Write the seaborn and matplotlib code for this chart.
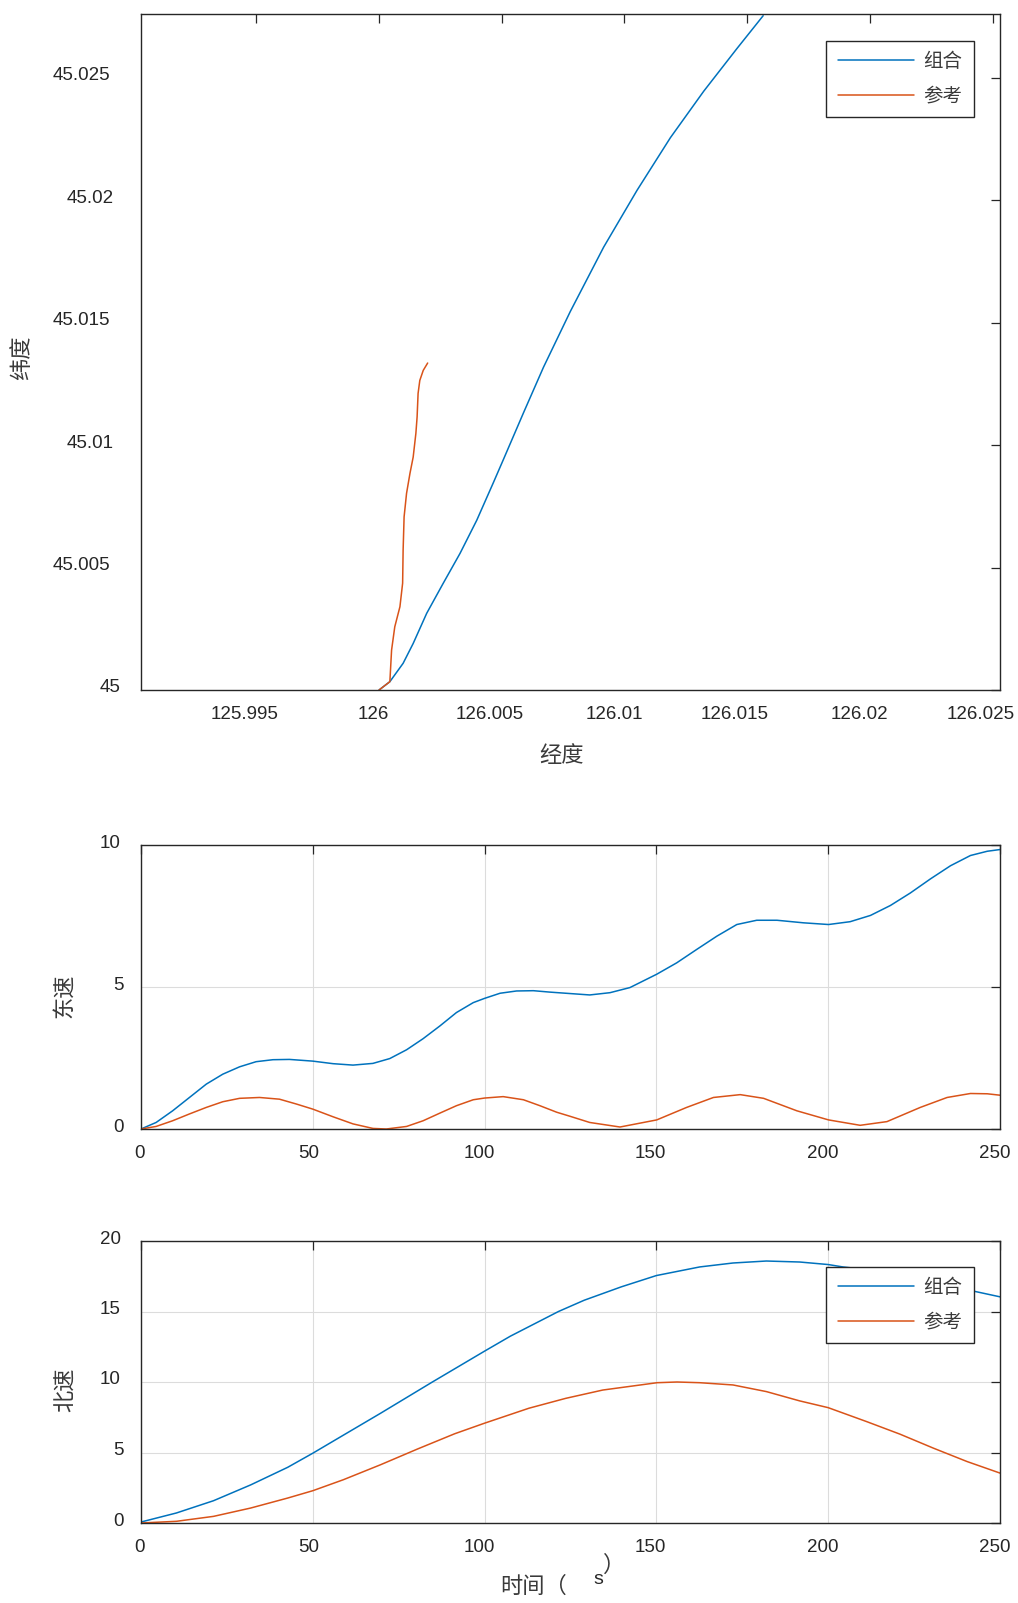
import numpy as np
import seaborn as sns
import matplotlib
matplotlib.use("Agg")
import matplotlib.pyplot as plt
from matplotlib.transforms import ScaledTranslation

# trajectory (longitude / latitude)
lon_comb = [126.0, 126.00044, 126.00098, 126.00139, 126.00194, 126.00261, 126.0033,
            126.00398, 126.00465, 126.00507, 126.00589, 126.0067, 126.00779,
            126.00915, 126.01051, 126.01187, 126.01323, 126.01459, 126.01565]
lat_comb = [45.0, 45.00034, 45.00109, 45.0019, 45.00313, 45.00435, 45.00558,
            45.00693, 45.00845, 45.00942, 45.01133, 45.01318, 45.01545,
            45.01808, 45.0204, 45.02255, 45.02445, 45.0262, 45.02753]
lon_ref = [126.0, 126.00044, 126.00051, 126.00064, 126.00085, 126.00096, 126.00098,
           126.00102, 126.00112, 126.00126, 126.00139, 126.0015, 126.00155,
           126.00159, 126.00166, 126.0018, 126.00198]
lat_ref = [45.0, 45.00034, 45.00163, 45.00258, 45.0034, 45.00436, 45.00571,
           45.00707, 45.00803, 45.00885, 45.00951, 45.01048, 45.01115,
           45.01211, 45.01264, 45.01305, 45.01335]

# east velocity
t_east_comb = [0, 4.4, 9.2, 14.1, 19.0, 23.8, 28.7, 33.5, 38.4, 43.2, 50.0, 55.9, 61.7,
               67.5, 72.4, 77.3, 82.1, 87.0, 91.8, 96.7, 100.0, 104.5, 109.3, 114.2,
               119.0, 124.8, 130.6, 136.5, 142.3, 150.1, 155.9, 161.7, 167.6, 173.4,
               179.2, 185.1, 192.8, 200.1, 206.4, 212.3, 218.1, 223.9, 229.8, 235.6,
               241.4, 246.3, 250.0]
v_east_comb = [0, 0.23, 0.64, 1.11, 1.58, 1.93, 2.19, 2.37, 2.44, 2.45, 2.39, 2.30, 2.25,
               2.31, 2.48, 2.79, 3.18, 3.63, 4.10, 4.45, 4.60, 4.78, 4.86, 4.87,
               4.82, 4.77, 4.72, 4.80, 4.98, 5.45, 5.85, 6.32, 6.79, 7.20,
               7.35, 7.35, 7.26, 7.20, 7.30, 7.52, 7.87, 8.31, 8.81, 9.27,
               9.63, 9.78, 9.84]
t_east_ref = [0, 4.4, 9.2, 14.1, 19.0, 23.8, 28.7, 34.5, 40.3, 45.2, 50.0, 55.9, 61.7,
              67.5, 71.4, 77.3, 82.1, 87.0, 91.8, 96.7, 100.0, 105.4, 111.3, 116.1,
              121.0, 124.8, 130.6, 139.4, 150.1, 158.8, 166.6, 174.4, 181.2, 190.9,
              200.1, 209.3, 217.1, 226.8, 234.6, 241.4, 246.3, 250.0]
v_east_ref = [0, 0.09, 0.29, 0.53, 0.76, 0.96, 1.08, 1.11, 1.05, 0.88, 0.70, 0.43, 0.18,
              0.02, 0.0, 0.09, 0.29, 0.56, 0.82, 1.03, 1.09, 1.14, 1.03, 0.82,
              0.59, 0.45, 0.23, 0.07, 0.32, 0.76, 1.11, 1.21, 1.08, 0.64,
              0.32, 0.13, 0.26, 0.76, 1.11, 1.25, 1.24, 1.19]

# north velocity
t_north_comb = [0, 10.3, 21.1, 31.9, 42.7, 50.0, 58.9, 69.7, 84.8, 100.0, 107.5, 121.5,
                129.0, 139.8, 150.0, 162.6, 172.3, 182.0, 191.7, 200.0, 204.3, 214.0,
                227.0, 235.0, 242.4, 250.0]
v_north_comb = [0.07, 0.71, 1.58, 2.70, 3.95, 4.95, 6.23, 7.78, 10.0, 12.19, 13.25, 15.0,
                15.8, 16.75, 17.55, 18.16, 18.44, 18.58, 18.51, 18.33, 18.16, 17.9,
                17.3, 16.9, 16.44, 16.04]
t_north_ref = [0, 10.3, 21.1, 31.9, 42.7, 50.0, 58.9, 69.7, 80.5, 91.3, 100.0, 112.9,
               123.6, 134.4, 150.2, 156.0, 162.6, 172.3, 182.0, 191.7, 200.0, 211.2,
               220.9, 230.6, 240.4, 250.0]
v_north_ref = [0, 0.12, 0.47, 1.06, 1.77, 2.29, 3.07, 4.13, 5.25, 6.33, 7.08, 8.14,
               8.84, 9.43, 9.95, 10.0, 9.95, 9.79, 9.32, 8.66, 8.18, 7.19,
               6.30, 5.31, 4.36, 3.54]

BLUE = '#0072BD'
ORANGE = '#D95319'
AX_COLOR = '#262626'
LABEL_COLOR = '#3a3a3a'

sns.set_style("white")
plt.rcParams['font.family'] = ['Liberation Sans', 'Noto Sans CJK SC', 'DejaVu Sans']
plt.rcParams['axes.unicode_minus'] = False

W, H = 1018, 1603
fig = plt.figure(figsize=(W / 100, H / 100), dpi=100)


def box(left, top, right, bottom):
    """Axes rectangle from pixel edges."""
    return [left / W, 1 - bottom / H, (right - left) / W, (bottom - top) / H]


def style_axes(ax, grid=False):
    for sp in ax.spines.values():
        sp.set_visible(True)
        sp.set_color(AX_COLOR)
        sp.set_linewidth(1.0)
    ax.tick_params(direction='in', length=6.7, width=0.9, color=AX_COLOR,
                   top=True, right=True, labelsize=13.5, labelcolor=AX_COLOR)
    ax.tick_params(axis='x', pad=11.5)
    ax.tick_params(axis='y', pad=10.3)
    if grid:
        ax.grid(True, color='#dcdcdc', linewidth=0.8)
        ax.set_axisbelow(True)
    ax.set_xlabel('')
    ax.set_ylabel('')


def add_legend(ax, anchor):
    leg = ax.legend(loc='upper right', bbox_to_anchor=anchor, fontsize=14,
                    handlelength=3.9, handletextpad=0.5, labelspacing=0.85,
                    borderpad=0.6, borderaxespad=0.0, fancybox=False,
                    framealpha=1.0, edgecolor=AX_COLOR)
    leg.get_frame().set_linewidth(1.0)
    for txt in leg.get_texts():
        txt.set_color(LABEL_COLOR)
    return leg


# --- top: trajectory ---
ax1 = fig.add_axes(box(141, 14, 1000, 690))
sns.lineplot(x=lon_comb, y=lat_comb, sort=False, estimator=None, ax=ax1,
             color=BLUE, linewidth=1.1, label='组合')
sns.lineplot(x=lon_ref, y=lat_ref, sort=False, estimator=None, ax=ax1,
             color=ORANGE, linewidth=1.1, label='参考')
ax1.set_xlim(125.9903, 126.0253)
ax1.set_ylim(45.0, 45.0276)
ax1.set_xticks([125.995, 126.0, 126.005, 126.01, 126.015, 126.02, 126.025])
ax1.set_xticklabels(['125.995', '126', '126.005', '126.01', '126.015', '126.02', '126.025'])
ax1.set_yticks([45.0, 45.005, 45.01, 45.015, 45.02, 45.025])
ax1.set_yticklabels(['45', '45.005', '45.01', '45.015', '45.02', '45.025'])
style_axes(ax1)
add_legend(ax1, (0.970, 0.960))

# --- middle: east velocity ---
ax2 = fig.add_axes(box(141, 845, 1000, 1129))
sns.lineplot(x=t_east_comb, y=v_east_comb, ax=ax2, color=BLUE, linewidth=1.1)
sns.lineplot(x=t_east_ref, y=v_east_ref, ax=ax2, color=ORANGE, linewidth=1.1)
ax2.set_xlim(0, 250)
ax2.set_ylim(0, 10)
ax2.set_xticks(np.arange(0, 251, 50))
ax2.set_yticks([0, 5, 10])
style_axes(ax2, grid=True)

# --- bottom: north velocity ---
ax3 = fig.add_axes(box(141, 1241, 1000, 1523))
sns.lineplot(x=t_north_comb, y=v_north_comb, ax=ax3, color=BLUE, linewidth=1.1,
             label='组合')
sns.lineplot(x=t_north_ref, y=v_north_ref, ax=ax3, color=ORANGE, linewidth=1.1,
             label='参考')
ax3.set_xlim(0, 250)
ax3.set_ylim(0, 20)
ax3.set_xticks(np.arange(0, 251, 50))
ax3.set_yticks([0, 5, 10, 15, 20])
style_axes(ax3, grid=True)
add_legend(ax3, (0.970, 0.908))

# the original export draws tick labels slightly left of their ticks
fig.canvas.draw()
renderer = fig.canvas.get_renderer()
for ax in (ax1, ax2, ax3):
    for lab in ax.get_xticklabels():
        w = lab.get_window_extent(renderer).width
        lab.set_transform(lab.get_transform() +
                          ScaledTranslation(-0.18 * w / 100, 0, fig.dpi_scale_trans))
    for lab in ax.get_yticklabels():
        w = lab.get_window_extent(renderer).width
        lab.set_transform(lab.get_transform() +
                          ScaledTranslation(-0.28 * w / 100, 4 / 100, fig.dpi_scale_trans))

# axis labels
fig.text(22.5 / W, 1 - 358 / H, '纬度', rotation=90, ha='center', va='center',
         fontsize=16, color=LABEL_COLOR)
fig.text(562 / W, 1 - 756 / H, '经度', ha='center', va='center',
         fontsize=16, color=LABEL_COLOR)
fig.text(66 / W, 1 - 996 / H, '东速', rotation=90, ha='center', va='center',
         fontsize=16, color=LABEL_COLOR)
fig.text(66 / W, 1 - 1390 / H, '北速', rotation=90, ha='center', va='center',
         fontsize=16, color=LABEL_COLOR)
fig.text(534 / W, 1 - 1587 / H, '时间（', ha='center', va='center',
         fontsize=16, color=LABEL_COLOR)
fig.text(598 / W, 1 - 1579 / H, 's', ha='center', va='center',
         fontsize=14, color=AX_COLOR)
fig.text(614 / W, 1 - 1566 / H, '）', ha='center', va='center',
         fontsize=16, color=LABEL_COLOR)

fig.savefig('out.png', dpi=100, facecolor='white')
